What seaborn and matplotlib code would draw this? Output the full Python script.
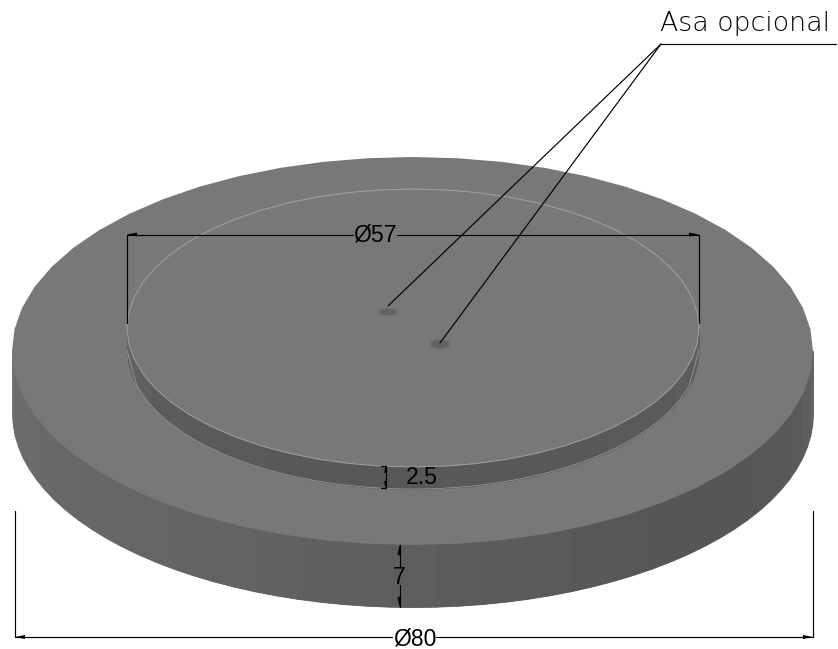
"""Stepped disc drawing with its dimensions, in image pixel coordinates."""

import matplotlib
matplotlib.use('Agg')
import matplotlib.pyplot as plt
from matplotlib.patches import Ellipse
import numpy as np
import pandas as pd
import seaborn as sns

# disc geometry (px)
disc_cx, disc_a, disc_b = 412.5, 400.5, 194
disc_top_y, disc_bottom_y = 351, 413
step_cx, step_a, step_b = 413, 286, 139
step_top_y, step_bottom_y = 328, 350
hole_x = [388, 440]
hole_y = [312, 344]
hole_w = [20, 21]
hole_h = [8, 10]

# grey levels of the shaded walls, left to right
disc_wall_grey = [110, 108, 106, 105, 104, 103, 102, 101, 100, 99, 98, 96,
                  95, 94, 92, 91, 90, 88, 87, 86, 86, 86, 87, 88, 90, 94, 98]
step_wall_grey = [100, 96, 92, 90, 89, 88, 88, 88, 88, 88, 88, 89, 90, 92, 96]

# dimension and leader lines: name, xs, ys
line_names = ['d57_left', 'd57_right', 'd57_ext_l', 'd57_ext_r',
              'd80_left', 'd80_right', 'd80_ext_l', 'd80_ext_r',
              'h7_up', 'h7_down', 'h25', 'h25_t', 'h25_b',
              'underline', 'leader_a', 'leader_b']
line_xs = [[127, 353], [397, 699], [127, 127], [699, 699],
           [15, 392], [436, 813], [15, 15], [813, 813],
           [399.5, 399.5], [399.5, 399.5], [385.5, 385.5], [381, 386], [381, 386],
           [661, 836], [661, 388], [661, 440]]
line_ys = [[234.5, 234.5], [234.5, 234.5], [234.5, 323], [234.5, 323],
           [637, 637], [637, 637], [511, 637], [511, 637],
           [545, 567], [585, 607], [466, 488], [466, 466], [488, 488],
           [44, 44], [44, 306], [44, 343]]

# arrow tips: x, y, direction
arrow_x = [127, 699, 15, 813, 399.5, 399.5, 385.5, 385.5]
arrow_y = [234.5, 234.5, 637, 637, 545, 607, 466, 488]
arrow_dx = [1, -1, 1, -1, 0, 0, 0, 0]
arrow_dy = [0, 0, 0, 0, 1, -1, 1, -1]
arrow_len = [10, 10, 10, 10, 10, 10, 7, 7]

# labels
label_text = ['Ø57', 'Ø80', '2.5', '7']
label_x = [375, 414.5, 421.5, 399]
label_y = [235, 639, 478, 577]

FACE = '#787878'
EDGE = '#a2a2a2'


def grey(level):
    return (level / 255, level / 255, level / 255)


def lower_arc(x, cx, a, b, cy):
    return cy + b * np.sqrt(np.clip(1 - ((x - cx) / a) ** 2, 0, 1))


def facets(cx, a, b, cy, n=56):
    t = np.linspace(0, 2 * np.pi, n + 1)
    return cx + a * np.cos(t), cy + b * np.sin(t)


def draw_wall(ax, cx, a, b, cy_top, cy_bottom, shades, zorder):
    # strips run up to the face centre line, the face covers the upper part
    edges = cx - a * np.cos(np.linspace(0, np.pi, len(shades) * 2 + 1))
    ax.fill_between(edges, cy_top, lower_arc(edges, cx, a, b, cy_bottom),
                    color=grey(np.mean(shades)), linewidth=0, zorder=zorder)
    for i, level in enumerate(shades):
        xs = edges[2 * i:2 * i + 3]
        ax.fill_between(xs, cy_top, lower_arc(xs, cx, a, b, cy_bottom),
                        facecolor=grey(level), edgecolor=grey(level), linewidth=0.6, zorder=zorder)


sns.set_theme(style='white')
plt.rcParams['font.family'] = ['Liberation Sans', 'DejaVu Sans']

fig = plt.figure(figsize=(8.38, 6.49), dpi=100)
ax = fig.add_axes([0, 0, 1, 1])
ax.set_xlim(0, 838)
ax.set_ylim(649, 0)
ax.axis('off')

# big disc
draw_wall(ax, disc_cx, disc_a, disc_b, disc_top_y, disc_bottom_y, disc_wall_grey, 2)
ax.fill(*facets(disc_cx, disc_a, disc_b, disc_top_y), facecolor=FACE, edgecolor='none', zorder=3)

# raised step
draw_wall(ax, step_cx, step_a, step_b, step_top_y, step_bottom_y, step_wall_grey, 4)
ax.fill(*facets(step_cx, step_a, step_b, step_top_y), facecolor=FACE, edgecolor='none', zorder=5)
ax.plot(*facets(step_cx, step_a, step_b, step_top_y), color=EDGE, linewidth=0.7, zorder=6)
xs_low = np.linspace(step_cx - step_a, step_cx + step_a, 57)
ax.plot(xs_low, lower_arc(xs_low, step_cx, step_a, step_b, step_bottom_y),
        color=EDGE, linewidth=0.5, zorder=6)

# holes
for x, y, w, h in zip(hole_x, hole_y, hole_w, hole_h):
    ax.add_patch(Ellipse((x, y), w, h, color='#6d6d6d', linewidth=0, zorder=7))
    ax.add_patch(Ellipse((x, y), w * 0.8, h * 0.75, color='#626262', linewidth=0, zorder=7))

# dimension lines
lines = pd.DataFrame({'name': line_names, 'x': line_xs, 'y': line_ys}).explode(['x', 'y'])
lines[['x', 'y']] = lines[['x', 'y']].astype(float)
for _, group in lines.groupby('name', sort=False):
    sns.lineplot(data=group, x='x', y='y', estimator=None, sort=False, color='black',
                 linewidth=0.85, ax=ax, zorder=8, legend=False)

ax.set_xlim(0, 838)
ax.set_ylim(649, 0)

for x, y, dx, dy, length in zip(arrow_x, arrow_y, arrow_dx, arrow_dy, arrow_len):
    w = 2 if length > 7 else 1.4
    ax.fill([x, x + dx * length + dy * w, x + dx * length - dy * w],
            [y, y + dy * length + dx * w, y + dy * length - dx * w],
            color='black', linewidth=0, zorder=9)

for text, x, y in zip(label_text, label_x, label_y):
    ax.text(x, y, text, fontsize=16.6, color='black', ha='center', va='center', zorder=10)

ax.text(745, 24, 'Asa opcional', fontsize=19.3, family='DejaVu Sans', fontweight='ultralight',
        color='black', ha='center', va='center', zorder=10)

fig.savefig('out.png', dpi=100)
